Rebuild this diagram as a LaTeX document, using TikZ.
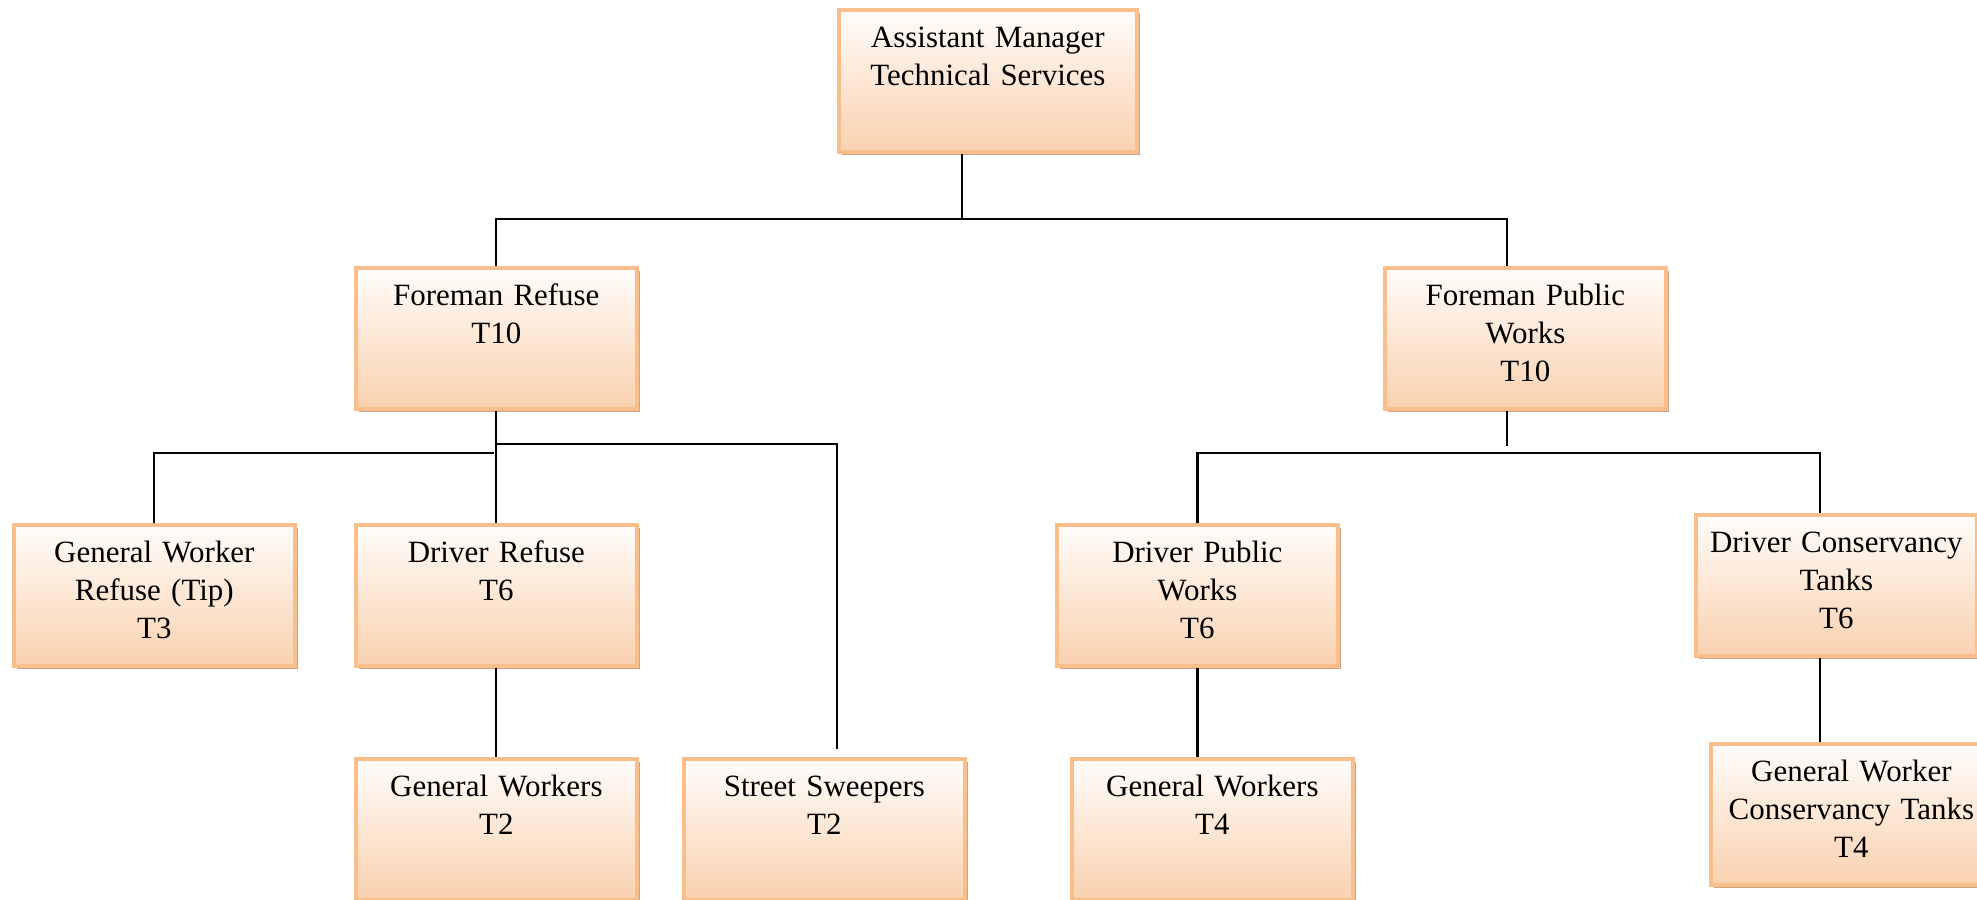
\documentclass[tikz,border=0pt]{standalone}
\usepackage{fontspec}
\setmainfont{Liberation Serif}
\usepackage{tikz}
\usetikzlibrary{shadows}

\definecolor{peachtop}{HTML}{FFFCFA}
\definecolor{peachbot}{HTML}{F9D1AF}
\definecolor{peachline}{HTML}{F8BE8C}
\definecolor{peachshade}{HTML}{D0A386}

\tikzset{
  post/.style={rectangle, anchor=north west, draw=peachline, line width=1pt,
    top color=peachtop, bottom color=peachbot,
    general shadow={fill=peachshade, shadow xshift=0.035cm, shadow yshift=-0.035cm},
    inner xsep=0.05cm, inner ysep=0pt, text width=2.71cm, align=center,
    text height=0.38cm, text depth=1.03cm,
    font=\fontsize{8.8}{10.8}\selectfont},
  link/.style={black, line width=0.65pt}
}

\begin{document}
\begin{tikzpicture}[x=0.01cm,y=-0.01cm]
  \clip (0,0) rectangle (1977,899);

  % boxes, placed by their top left corners
  \node[post, text width=2.88cm, text depth=1.04cm] (am) at (837,8) {Assistant Manager\\Technical Services};
  \node[post] (fr) at (354,266) {Foreman Refuse\\T10};
  \node[post] (fpw) at (1383,266) {Foreman Public\\Works\\T10};
  \node[post] (gwr) at (12,523) {General Worker\\Refuse (Tip)\\T3};
  \node[post] (dr) at (354,523) {Driver Refuse\\T6};
  \node[post] (dpw) at (1055,523) {Driver Public\\Works\\T6};
  \node[post] (dct) at (1694,513) {Driver Conservancy\\Tanks\\T6};
  \node[post] (gw2) at (354,757) {General Workers\\T2};
  \node[post] (ss) at (682,757) {Street Sweepers\\T2};
  \node[post] (gw4) at (1070,757) {General Workers\\T4};
  \node[post] (gwct) at (1709,742) {General Worker\\Conservancy Tanks\\T4};

  % bends and bus lines
  \coordinate (busA) at (962,219);
  \coordinate (pwx) at (1507,219);
  \coordinate (busL) at (494,453);
  \coordinate (busR) at (837,444);
  \coordinate (ssend) at (837,749);
  \coordinate (pwdrop) at (1507,446);
  \coordinate (ctx) at (1820,453);

  % top level
  \draw[link] (am.south -| busA) -- (busA);
  \draw[link] (fr.north) |- (pwx) -- (pwx |- fpw.north);

  % refuse side
  \draw[link] (fr.south) -- (dr.north);
  \draw[link] (gwr.north) |- (busL);
  \draw[link] (fr.south |- busR) -- (busR) -- (ssend);
  \draw[link] (dr.south) -- (gw2.north);

  % public works side
  \draw[link] (fpw.south -| pwdrop) -- (pwdrop);
  \draw[link] (dpw.north) |- (ctx) -- (ctx |- dct.north);
  \draw[link] (dpw.south) -- (dpw.south |- gw4.north);
  \draw[link] (dct.south -| ctx) -- (ctx |- gwct.north);
\end{tikzpicture}
\end{document}
